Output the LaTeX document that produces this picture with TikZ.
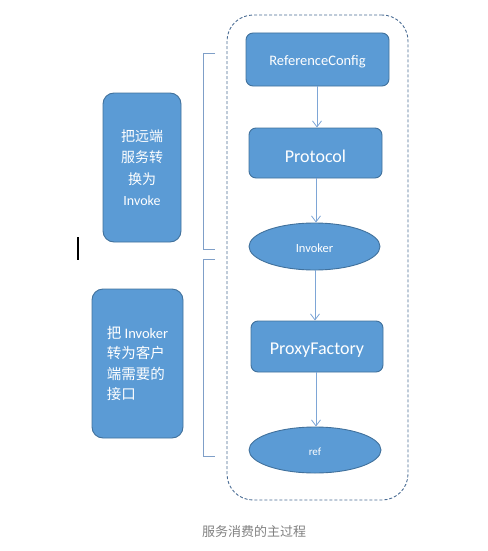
\documentclass[tikz,border=0pt]{standalone}
\usepackage{fontspec}
\setmainfont{Carlito}
\newfontfamily\cjk{Noto Sans CJK SC}
\usetikzlibrary{shapes.geometric,arrows.meta}
\definecolor{boxfill}{HTML}{5B9BD5}
\definecolor{boxline}{HTML}{41719C}
\definecolor{arrowc}{HTML}{7EA6D6}
\definecolor{dashc}{HTML}{4A6C94}
\definecolor{brackc}{HTML}{7F9FC8}
\definecolor{capc}{HTML}{808080}
\tikzset{
  rbox/.style={draw=boxline, line width=0.9pt, fill=boxfill, rounded corners=7pt, text=white, inner sep=0pt},
  ebox/.style={ellipse, draw=boxline, line width=0.9pt, fill=boxfill, text=white, inner sep=0pt},
  sidebox/.style={draw=boxline, line width=0.9pt, fill=boxfill, rounded corners=11pt, text=white, inner sep=0pt},
  flow/.style={draw=arrowc, line width=0.8pt, -{Straight Barb[length=6pt,width=9pt]}},
  brack/.style={draw=brackc, line width=0.8pt},
}
\newcommand{\dn}[2]{\raisebox{-#1pt}[\height][\depth]{#2}}
\begin{document}
\begin{tikzpicture}[x=1pt,y=-1pt]
\useasboundingbox (0,0) rectangle (487,551);
% container
\node[draw=dashc, dash pattern=on 3pt off 2pt, line width=0.9pt, rounded corners=26pt, minimum width=181pt, minimum height=485pt, inner sep=0pt] (cont) at (317.5,257.5) {};
% flow nodes
\node[rbox, minimum width=143pt, minimum height=53pt, font=\fontsize{14.5}{16}\selectfont] (rc) at (317.5,59.5) {\dn{2}{ReferenceConfig}};
\node[rbox, minimum width=133pt, minimum height=50pt, font=\fontsize{18}{20}\selectfont] (proto) at (315.5,153) {\dn{3.5}{Protocol}};
\node[ebox, minimum width=131pt, minimum height=47pt, font=\fontsize{12.5}{14}\selectfont] (inv) at (314.5,246.5) {\dn{1.5}{Invoker}};
\node[rbox, minimum width=132pt, minimum height=51pt, font=\fontsize{18}{20}\selectfont] (pf) at (317,346.5) {\dn{3.5}{ProxyFactory}};
\node[ebox, minimum width=132pt, minimum height=46pt, font=\fontsize{11}{13}\selectfont] (ref) at (315,450) {\dn{1.5}{ref}};
% arrows
\draw[flow] (rc.south -| 317,0) -- (proto.north -| 317,0);
\draw[flow] (proto.south -| 316,0) -- (inv.north -| 316,0);
\draw[flow] (inv.south -| 315,0) -- (pf.north -| 315,0);
\draw[flow] (pf.south -| 316,0) -- (ref.north -| 316,0);
% side boxes
\node[sidebox, minimum width=78pt, minimum height=149pt, align=center, font=\fontsize{14}{21.5}\selectfont] (s1) at (142,167.5) {\cjk 把远端\\\cjk 服务转\\\cjk 换为\\Invoke};
\node[sidebox, minimum width=91pt, minimum height=149pt, align=left, font=\fontsize{14.5}{20.5}\selectfont] (s2) at (137.5,363.5) {\cjk 把 \rmfamily Invoker\\\cjk 转为客户\\\cjk 端需要的\\\cjk 接口};
% brackets
\coordinate (b1t) at (215,53);
\coordinate (b1b) at (215,249);
\coordinate (b2t) at (215,259);
\coordinate (b2b) at (215,456);
\draw[brack] (b1t) -- ++(-12,0) |- (b1b);
\draw[brack] (b2t) -- ++(-12,0) |- (b2b);
% cursor mark
\fill[black] (76.5,237) rectangle (78.5,260);
% caption
\node[text=capc, font=\cjk\fontsize{13}{15}\selectfont] (cap) at (254,531.5) {服务消费的主过程};
\end{tikzpicture}
\end{document}
